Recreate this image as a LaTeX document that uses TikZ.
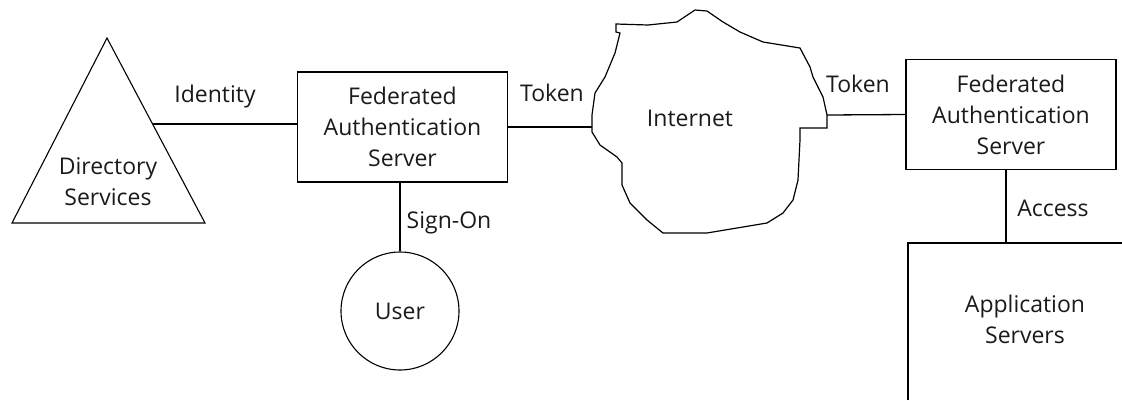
\documentclass[tikz,border=0pt]{standalone}
\usepackage{fontspec}
\setmainfont{Open Sans}
\usetikzlibrary{calc}
\definecolor{labelgray}{HTML}{1A1A1A}
\tikzset{
  server/.style={draw,line width=1.3pt,minimum width=210pt,minimum height=110pt,align=center,text=labelgray},
  person/.style={draw,circle,line width=1.1pt,minimum size=118pt,text=labelgray},
  caption/.style={text=labelgray,align=center},
  link/.style={line width=1.3pt}
}
\begin{document}
\begin{tikzpicture}[x=1pt,y=-1pt,font=\fontsize{23}{31}\selectfont]
\useasboundingbox (0,0) rectangle (1122,400);
\draw[line width=1.1pt] (107,38) -- (205,223) -- (12,223) -- cycle;
\node[caption] (dir) at (108,182) {Directory\\Services};
\coordinate (dirEdge) at (152.6,124);
\node[server] (fas1) at (402.5,127) {Federated\\Authentication\\Server};
\node[person] (user) at (400,311) {User};
\draw[line width=1.2pt] (616,24) -- (648,25) -- (677,22) -- (695,10) -- (707,11) -- (723,22) -- (740,32) -- (763,42) -- (800,48) -- (810,67) -- (813,77) -- (823,97) -- (827,115) -- (827,128) -- (800,128) -- (800,140) -- (798,180) -- (793,200) -- (783,213) -- (767,223) -- (707,233) -- (663,233) -- (647,220) -- (630,203) -- (622,185) -- (622,163) -- (617,157) -- (600,145) -- (592,132) -- (592,115) -- (595,93) -- (605,77) -- (615,53) -- (620,33) -- (616,32) -- cycle;
\node[caption] (net) at (690,118) {Internet};
\coordinate (netW) at (592,127);
\coordinate (netE) at (827,115);
\node[server] (fas2) at (1011,114.5) {Federated\\Authentication\\Server};
\draw[line width=1.3pt] (908,400) -- (908,243) -- (1122,243);
\coordinate (appTop) at (1006,243);
\node[caption] (app) at (1025,319) {Application\\Servers};
\draw[link] (dirEdge) -- (fas1.west |- dirEdge);
\draw[link] (fas1.east) -- (netW);
\draw[link] (netE) -- (fas2.west);
\draw[link] (user.north) -- (user.north |- fas1.south);
\draw[link] (appTop) -- (appTop |- fas2.south);
\node[caption] (identity) at (215,97) {Identity};
\node[caption] (token1) at (552,93) {Token};
\node[caption] (token2) at (858,84) {Token};
\node[caption] (signon) at (449,223) {Sign-On};
\node[caption] (access) at (1053,208) {Access};
\end{tikzpicture}
\end{document}
